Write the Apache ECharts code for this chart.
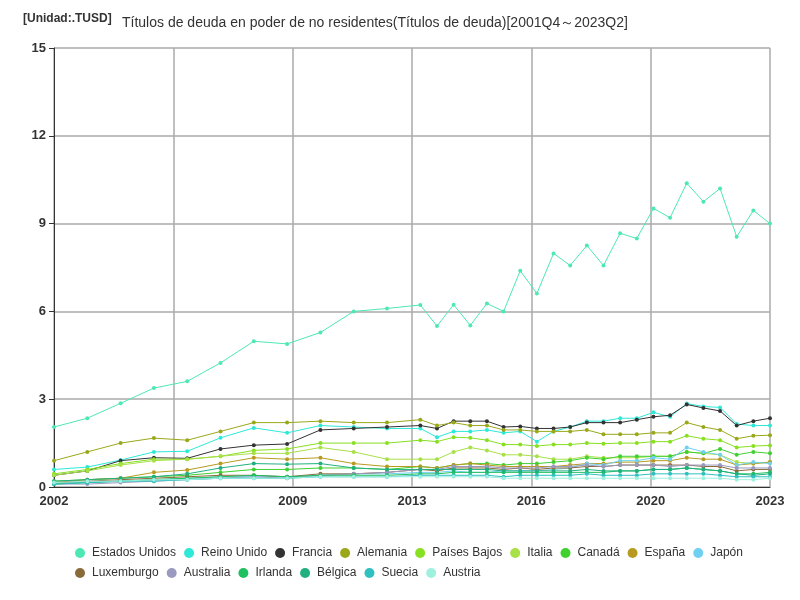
<!DOCTYPE html><html><head><meta charset="utf-8"><script src="https://cdn.jsdelivr.net/npm/echarts@6/dist/echarts.min.js"></script></head><body style="margin:0"><div id="c" style="width:800px;height:600px"></div><script>
// x positions: yearly steps (2 half-units) then half-year steps
const xPos=[0,2,4,6,8,10,12,14,16,18,20,22,23,24,25,26,27,28,29,30,31,32,33,34,35,36,37,38,39,40,41,42,43];
const xTickLabels=['2002','2005','2009','2013','2016','2020','2023'];
const names=['Estados Unidos','Reino Unido','Francia','Alemania','Países Bajos','Italia','Canadá','España','Japón','Luxemburgo','Australia','Irlanda','Bélgica','Suecia','Austria'];
const colors=['#4de8b4','#2ee8d8','#333333','#9aa81a','#88e020','#a8e048','#40d030','#b89a20','#70d0f0','#8b6a3a','#9a9ac0','#20c060','#20b080','#30c0c0','#a0f0e0'];
const usa=[2.05,2.35,2.86,3.38,3.61,4.24,4.98,4.89,5.28,6.0,6.1,6.22,5.5,6.23,5.52,6.27,6.0,7.39,6.61,7.98,7.57,8.25,7.57,8.67,8.49,9.52,9.2,10.38,9.75,10.2,8.55,9.45,9.0];
const uk=[0.6,0.68,0.92,1.2,1.22,1.68,2.02,1.85,2.1,2.05,2.0,2.0,1.7,1.9,1.9,1.95,1.85,1.9,1.55,1.9,2.05,2.25,2.25,2.35,2.35,2.55,2.4,2.85,2.75,2.72,2.15,2.1,2.1];
const fra=[0.4,0.55,0.9,1.0,0.98,1.3,1.43,1.47,1.95,2.0,2.05,2.1,2.0,2.25,2.25,2.25,2.05,2.07,2.0,2.0,2.05,2.2,2.2,2.2,2.3,2.4,2.45,2.82,2.7,2.6,2.1,2.25,2.35];
const ger=[0.9,1.2,1.5,1.67,1.6,1.9,2.2,2.2,2.25,2.2,2.2,2.3,2.1,2.2,2.1,2.1,1.95,1.95,1.9,1.9,1.9,1.95,1.8,1.8,1.8,1.85,1.85,2.2,2.05,1.95,1.65,1.75,1.77];
const ned=[0.45,0.6,0.8,0.95,0.95,1.05,1.25,1.3,1.5,1.5,1.5,1.6,1.55,1.7,1.68,1.6,1.45,1.45,1.4,1.45,1.45,1.5,1.48,1.5,1.5,1.55,1.55,1.75,1.65,1.6,1.35,1.4,1.42];
const ita=[0.4,0.55,0.75,0.9,0.95,1.05,1.15,1.15,1.35,1.2,0.95,0.95,0.95,1.2,1.35,1.25,1.1,1.1,1.05,0.95,0.95,1.05,1.0,1.0,1.0,1.05,1.05,1.2,1.15,1.1,0.85,0.8,0.85];
const can=[0.2,0.25,0.3,0.35,0.4,0.5,0.6,0.6,0.65,0.65,0.6,0.7,0.65,0.75,0.8,0.8,0.75,0.8,0.8,0.85,0.9,1.0,0.95,1.05,1.05,1.05,1.05,1.2,1.15,1.3,1.1,1.2,1.15];
const esp=[0.15,0.25,0.3,0.5,0.58,0.8,1.0,0.95,1.0,0.8,0.7,0.7,0.65,0.75,0.8,0.75,0.7,0.7,0.7,0.7,0.75,0.8,0.8,0.85,0.85,0.9,0.9,1.0,0.95,0.95,0.75,0.8,0.85];
const jpn=[0.15,0.15,0.2,0.25,0.3,0.35,0.35,0.35,0.4,0.45,0.45,0.5,0.5,0.55,0.5,0.5,0.55,0.55,0.55,0.6,0.65,0.8,0.75,0.9,0.9,1.0,0.95,1.35,1.2,1.1,0.75,0.85,0.8];
const lux=[0.15,0.2,0.25,0.3,0.35,0.4,0.4,0.35,0.45,0.45,0.5,0.6,0.55,0.65,0.65,0.65,0.6,0.65,0.6,0.65,0.65,0.7,0.7,0.75,0.75,0.75,0.75,0.75,0.7,0.7,0.55,0.6,0.6];
const aus=[0.1,0.1,0.15,0.2,0.25,0.3,0.35,0.3,0.4,0.45,0.5,0.6,0.6,0.7,0.7,0.7,0.65,0.65,0.65,0.7,0.7,0.75,0.7,0.75,0.75,0.75,0.7,0.75,0.75,0.75,0.65,0.65,0.65];
const irl=[0.1,0.15,0.2,0.25,0.3,0.35,0.4,0.35,0.4,0.4,0.4,0.45,0.45,0.5,0.5,0.5,0.5,0.5,0.5,0.5,0.5,0.5,0.5,0.55,0.55,0.6,0.6,0.65,0.6,0.55,0.45,0.45,0.5];
const bel=[0.2,0.25,0.3,0.35,0.45,0.65,0.8,0.78,0.8,0.65,0.6,0.6,0.6,0.6,0.6,0.6,0.55,0.55,0.55,0.55,0.55,0.6,0.55,0.55,0.55,0.6,0.6,0.65,0.6,0.55,0.45,0.4,0.45];
const swe=[0.1,0.15,0.2,0.2,0.25,0.3,0.3,0.3,0.35,0.35,0.35,0.4,0.4,0.4,0.4,0.4,0.35,0.4,0.4,0.4,0.4,0.45,0.4,0.4,0.4,0.45,0.45,0.45,0.45,0.4,0.35,0.35,0.35];
const aut=[0.15,0.2,0.2,0.25,0.25,0.3,0.3,0.3,0.35,0.35,0.35,0.35,0.35,0.35,0.35,0.35,0.3,0.3,0.3,0.3,0.3,0.3,0.3,0.3,0.3,0.3,0.3,0.3,0.3,0.3,0.25,0.25,0.3];
const all=[usa,uk,fra,ger,ned,ita,can,esp,jpn,lux,aus,irl,bel,swe,aut];
const xMax=xPos[xPos.length-1], step=xMax/(xTickLabels.length-1);
const ch=echarts.init(document.getElementById('c'));
ch.setOption({
 color:colors,
 title:[{text:'[Unidad:.TUSD]',left:18,top:8,textStyle:{fontSize:12,fontWeight:'bold',color:'#333'}},
        {text:'Títulos de deuda en poder de no residentes(Títulos de deuda)[2001Q4～2023Q2]',left:117,top:11,textStyle:{fontSize:14,fontWeight:'normal',color:'#333'}}],
 legend:{bottom:16,left:70,right:20,itemWidth:14,itemHeight:10,itemGap:8,textStyle:{fontSize:12,color:'#333'},data:names,icon:'circle'},
 grid:{left:54,right:30,top:48,bottom:113},
 xAxis:{type:'value',min:0,max:xMax,interval:step,
  axisLabel:{fontWeight:'bold',fontSize:13,color:'#333',formatter:v=>xTickLabels[Math.round(v/step)]||''},
  splitLine:{lineStyle:{color:'#aaa',width:1.5}},axisLine:{lineStyle:{color:'#333'}},axisTick:{show:false}},
 yAxis:{type:'value',min:0,max:15,interval:3,axisLabel:{fontWeight:'bold',fontSize:13,color:'#333'},
  splitLine:{lineStyle:{color:'#aaa',width:1.5}},axisLine:{show:true,lineStyle:{color:'#333'}}},
 series:names.map((n,i)=>({name:n,type:'line',symbol:'circle',symbolSize:4,lineStyle:{width:1},
  data:all[i].map((v,j)=>[xPos[j],v])}))
});
</script></body></html>
